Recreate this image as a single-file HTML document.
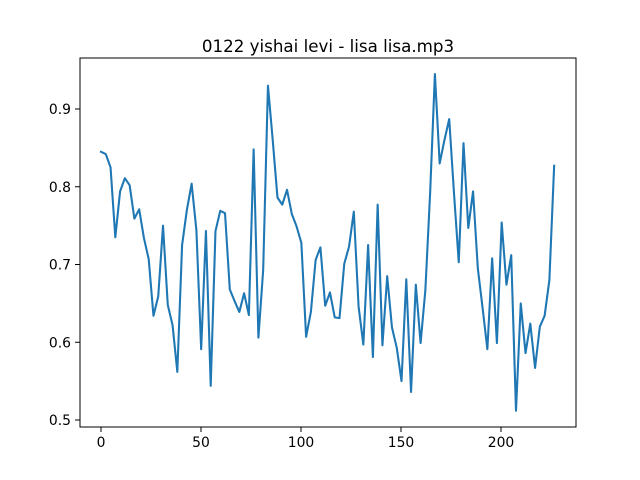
<!DOCTYPE html>
<html><head><meta charset="utf-8"><style>
body{margin:0;background:#fff;}
svg{display:block;font-family:"DejaVu Sans","Liberation Sans",sans-serif;}
</style></head><body>
<svg id="chart" width="640" height="480" viewBox="0 0 640 480">
<rect width="640" height="480" fill="#fff"/>
<text x="328" y="52" text-anchor="middle" font-size="16.7" fill="#000">0122 yishai levi - lisa lisa.mp3</text>
<g id="plot"></g>
<rect x="80" y="58" width="496" height="369" fill="none" stroke="#000" stroke-width="1"/>
</svg>
<script>
const xStep = 2.385;
const values = [0.845,0.842,0.825,0.735,0.794,0.811,0.802,0.759,0.771,0.734,0.707,0.634,0.659,0.750,0.648,0.622,0.562,0.725,0.770,0.804,0.744,0.591,0.743,0.544,0.743,0.769,0.766,0.668,0.653,0.639,0.663,0.635,0.848,0.606,
0.693,0.930,0.860,0.786,0.777,0.796,0.765,0.749,0.728,0.607,0.639,0.706,0.722,0.647,0.664,0.632,0.631,0.701,0.723,0.768,0.646,0.597,0.725,0.581,0.777,0.596,0.685,0.619,0.593,0.550,0.681,0.536,0.674,0.599,
0.667,0.792,0.945,0.830,0.860,0.887,0.792,0.703,0.856,0.747,0.794,0.695,0.644,0.591,0.708,0.599,0.754,0.674,0.712,0.512,0.650,0.586,0.624,0.567,0.620,0.634,0.680,0.827];
const xTicks = [0,50,100,150,200];
const yTicks = [0.5,0.6,0.7,0.8,0.9];
const NS="http://www.w3.org/2000/svg";
function xs(v){return 101 + v*2;}
function ys(v){return 109 + (0.9 - v)*777.5;}
const g=document.getElementById('plot');
function mk(t,a){const e=document.createElementNS(NS,t);for(const k in a)e.setAttribute(k,a[k]);g.appendChild(e);return e;}
xTicks.forEach(t=>{
  const l=mk('line',{x1:xs(t),x2:xs(t),y1:427,y2:432,stroke:'#000','stroke-width':1});
  
  
  const tx=mk('text',{x:xs(t),y:447,'text-anchor':'middle','font-size':13.9,fill:'#000'});
  tx.textContent=t;
  
  
});
yTicks.forEach(t=>{
  const l=mk('line',{x1:75,x2:80,y1:ys(t),y2:ys(t),stroke:'#000','stroke-width':1});
  
  
  const tx=mk('text',{x:71,y:ys(t)+5,'text-anchor':'end','font-size':13.9,fill:'#000'});
  tx.textContent=t.toFixed(1);
  
  
});
const pts=values.map((v,i)=>xs(i*xStep).toFixed(2)+','+ys(v).toFixed(2)).join(' ');
const pl=mk('polyline',{points:pts,fill:'none',stroke:'#1f77b4','stroke-width':2.08,'stroke-linejoin':'round','stroke-linecap':'square'});


</script>
</body></html>
